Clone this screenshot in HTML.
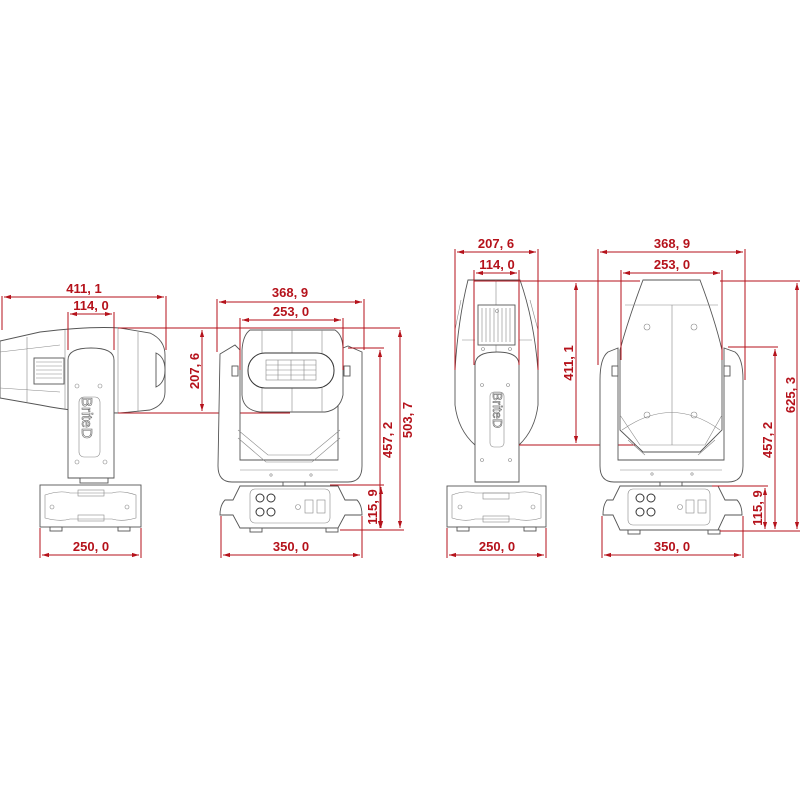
<!DOCTYPE html>
<html><head><style>
html,body{margin:0;padding:0;background:#fff}
svg{display:block}
.r{stroke:#b5121b;stroke-width:1;fill:none}
.t{fill:#b5121b;font-family:"Liberation Sans Narrow","Liberation Sans",sans-serif;font-size:13px;font-weight:bold}
.g{stroke:#555;stroke-width:0.9;fill:#fff}
.gl{stroke:#888;stroke-width:0.6;fill:none}
.d{stroke:#333;stroke-width:1;fill:#fff}
</style></head><body>
<svg width="800" height="800" viewBox="0 0 800 800" xmlns="http://www.w3.org/2000/svg">
<defs>
<marker id="a" viewBox="0 0 10 10" refX="10" refY="5" markerWidth="7" markerHeight="7" orient="auto-start-reverse"><path d="M0,2 L10,5 L0,8z" fill="#b5121b"/></marker>
</defs>

<!-- ===== VIEW 1 side ===== -->
<g>
<path class="g" d="M0,341 L40,332 Q90,326 120,328 L150,333 Q165,340 165,355 L165,392 Q165,405 150,410 L120,413 Q80,413 40,405 L0,398 Z"/>
<path class="gl" d="M0,352 L60,345 M0,388 L60,392 M27,337 L27,402 M65,330 L65,410 M138,332 L138,412 M118,328 L118,413"/>
<rect class="g" x="34" y="358" width="30" height="26"/>
<path class="gl" d="M36,362h26M36,366h26M36,370h26M36,374h26M36,378h26"/>
<path class="g" d="M156,353 Q165,357 165,370 Q165,383 156,387 Z"/>
<path class="g" d="M68,360 Q68,348 91,348 Q114,348 114,360 L114,478 L68,478 Z"/>
<rect class="gl" x="79" y="397" width="21" height="60" rx="5"/>
<text x="0" y="0" transform="translate(82,397) rotate(90)" style="font-family:'Liberation Sans',sans-serif;font-size:15px;fill:#fff;stroke:#666;stroke-width:0.6">BriteD</text>
<circle class="gl" cx="77" cy="386" r="2"/><circle class="gl" cx="100" cy="386" r="2"/>
<circle class="gl" cx="77" cy="462" r="2"/><circle class="gl" cx="105" cy="462" r="2"/>
<rect class="g" x="80" y="478" width="28" height="5"/>
<rect class="g" x="40" y="485" width="101" height="42"/>
<path class="gl" d="M45,495 Q60,490 70,493 L112,493 Q122,490 136,495 L136,518 Q122,522 112,519 L70,519 Q60,522 45,518 Z"/>
<rect class="gl" x="78" y="490" width="26" height="6"/><rect class="gl" x="78" y="515" width="26" height="6"/>
<circle class="gl" cx="52" cy="507" r="2"/><circle class="gl" cx="127" cy="507" r="2"/>
<rect class="g" x="50" y="527" width="12" height="4"/><rect class="g" x="118" y="527" width="12" height="4"/>
</g>

<!-- dims view1 -->
<line class="r" x1="2" y1="296" x2="2" y2="330"/>
<line class="r" x1="166" y1="296" x2="166" y2="350"/>
<line class="r" x1="4" y1="297" x2="164" y2="297" marker-start="url(#a)" marker-end="url(#a)"/>
<text class="t" x="84" y="293" text-anchor="middle">411, 1</text>
<line class="r" x1="68" y1="312" x2="68" y2="350"/>
<line class="r" x1="114" y1="312" x2="114" y2="350"/>
<line class="r" x1="70" y1="314" x2="112" y2="314" marker-start="url(#a)" marker-end="url(#a)"/>
<text class="t" x="91" y="310" text-anchor="middle">114, 0</text>
<line class="r" x1="118" y1="328" x2="400" y2="328"/>
<line class="r" x1="118" y1="413" x2="290" y2="413"/>
<line class="r" x1="202" y1="330" x2="202" y2="411" marker-start="url(#a)" marker-end="url(#a)"/>
<text class="t" transform="translate(199,371) rotate(-90)" text-anchor="middle">207, 6</text>
<line class="r" x1="40" y1="528" x2="40" y2="558"/>
<line class="r" x1="141" y1="528" x2="141" y2="558"/>
<line class="r" x1="42" y1="555" x2="139" y2="555" marker-start="url(#a)" marker-end="url(#a)"/>
<text class="t" x="91" y="551" text-anchor="middle">250, 0</text>

<!-- ===== VIEW 2 front ===== -->
<g>
<path class="g" d="M220,354 L235,345 L240,350 L240,460 L338,460 L338,350 L348,346 L362,352 L362,466 Q362,482 348,482 L232,482 Q218,482 218,466 Z"/>
<path class="gl" d="M238,430 L268,455 L310,455 L340,430 M238,438 L266,462 L312,462 L340,438 M240,470 L338,470"/>
<circle class="gl" cx="271" cy="475" r="1.2"/><circle class="gl" cx="311" cy="475" r="1.2"/>
<path class="g" d="M250,330 L335,330 Q343,335 343,350 L343,395 Q340,410 325,412 L260,412 Q243,410 242,395 L242,350 Q243,335 250,330 Z"/>
<path class="gl" d="M262,330 L262,412 M322,330 L322,412 M292,330 L292,412"/>
<rect class="d" x="248" y="353" width="86" height="35" rx="17"/>
<rect class="gl" x="266" y="360" width="50" height="20"/>
<path class="gl" d="M266,365h50M266,370h50M266,375h50M278,360v20M291,360v20M304,360v20"/>
<rect class="g" x="232" y="366" width="6" height="10"/><rect class="g" x="344" y="366" width="6" height="10"/>
<rect class="g" x="283" y="482" width="22" height="4"/>
<path class="g" d="M240,486 L338,486 L345,500 L357,500 Q362,505 362,515 L345,515 L338,528 L240,528 L233,515 L220,515 Q220,505 225,500 L233,500 Z"/>
<rect class="gl" x="250" y="489" width="80" height="34" rx="5"/>
<circle class="d" cx="260" cy="498" r="4"/><circle class="d" cx="271" cy="498" r="4"/>
<circle class="d" cx="260" cy="512" r="4"/><circle class="d" cx="271" cy="512" r="4"/>
<circle class="gl" cx="298" cy="507" r="2.5"/>
<rect class="gl" x="305" y="500" width="8" height="13"/><rect class="gl" x="317" y="500" width="8" height="13"/>
<rect class="g" x="250" y="528" width="12" height="4"/><rect class="g" x="326" y="528" width="12" height="4"/>
</g>
<!-- dims view2 -->
<line class="r" x1="217" y1="299" x2="217" y2="352"/>
<line class="r" x1="364" y1="299" x2="364" y2="350"/>
<line class="r" x1="219" y1="302" x2="362" y2="302" marker-start="url(#a)" marker-end="url(#a)"/>
<text class="t" x="290" y="297" text-anchor="middle">368, 9</text>
<line class="r" x1="240" y1="318" x2="240" y2="370"/>
<line class="r" x1="343" y1="318" x2="343" y2="370"/>
<line class="r" x1="242" y1="320" x2="341" y2="320" marker-start="url(#a)" marker-end="url(#a)"/>
<text class="t" x="291" y="316" text-anchor="middle">253, 0</text>
<line class="r" x1="348" y1="348" x2="384" y2="348"/>
<line class="r" x1="330" y1="485" x2="384" y2="485"/>
<line class="r" x1="340" y1="530" x2="404" y2="530"/>
<line class="r" x1="380" y1="350" x2="380" y2="528" marker-start="url(#a)" marker-end="url(#a)"/>
<text class="t" transform="translate(392,440) rotate(-90)" text-anchor="middle">457, 2</text>
<line class="r" x1="400" y1="330" x2="400" y2="528" marker-start="url(#a)" marker-end="url(#a)"/>
<text class="t" transform="translate(412,420) rotate(-90)" text-anchor="middle">503, 7</text>
<line class="r" x1="381" y1="487" x2="381" y2="528" marker-start="url(#a)" marker-end="url(#a)"/>
<text class="t" transform="translate(377,507) rotate(-90)" text-anchor="middle">115, 9</text>
<line class="r" x1="221" y1="516" x2="221" y2="558"/>
<line class="r" x1="362" y1="516" x2="362" y2="558"/>
<line class="r" x1="223" y1="555" x2="360" y2="555" marker-start="url(#a)" marker-end="url(#a)"/>
<text class="t" x="291" y="551" text-anchor="middle">350, 0</text>

<!-- ===== VIEW 3 side back ===== -->
<g>
<path class="g" d="M468,280 L520,280 Q534,320 538,370 L538,405 Q535,430 519,445 L475,445 Q458,430 455,405 L455,370 Q458,320 468,280 Z"/>
<path class="gl" d="M496,280 L496,445 M462,340 L475,340 M519,340 L532,340 M461,300 L455,330 M530,300 L538,330"/>
<rect class="g" x="478" y="305" width="37" height="40"/>
<path class="gl" d="M482,308v34M486,308v34M490,308v34M494,308v34M498,308v34M502,308v34M506,308v34M510,308v34"/>
<circle class="gl" cx="497" cy="311" r="1.5"/><circle class="gl" cx="483" cy="349" r="1.5"/><circle class="gl" cx="510" cy="349" r="1.5"/>
<path class="g" d="M475,365 Q475,352 497,352 Q519,352 519,365 L519,482 L475,482 Z"/>
<rect class="gl" x="490" y="392" width="14" height="55" rx="4"/>
<text x="0" y="0" transform="translate(493,392) rotate(90)" style="font-family:'Liberation Sans',sans-serif;font-size:13px;fill:#fff;stroke:#666;stroke-width:0.6">BriteD</text>
<circle class="gl" cx="482" cy="385" r="1.5"/><circle class="gl" cx="508" cy="385" r="1.5"/>
<circle class="gl" cx="482" cy="460" r="1.5"/><circle class="gl" cx="510" cy="460" r="1.5"/>
<rect class="g" x="447" y="486" width="99" height="41"/>
<path class="gl" d="M452,495 Q465,490 475,493 L515,493 Q528,490 541,495 L541,518 Q528,522 515,519 L475,519 Q465,522 452,518 Z"/>
<rect class="gl" x="483" y="493" width="26" height="6"/><rect class="gl" x="483" y="516" width="26" height="6"/>
<circle class="gl" cx="460" cy="507" r="2"/><circle class="gl" cx="533" cy="507" r="2"/>
<rect class="g" x="457" y="527" width="12" height="4"/><rect class="g" x="524" y="527" width="12" height="4"/>
</g>
<!-- dims view3 -->
<line class="r" x1="455" y1="249" x2="455" y2="370"/>
<line class="r" x1="538" y1="249" x2="538" y2="370"/>
<line class="r" x1="457" y1="252" x2="536" y2="252" marker-start="url(#a)" marker-end="url(#a)"/>
<text class="t" x="496" y="248" text-anchor="middle">207, 6</text>
<line class="r" x1="474" y1="270" x2="474" y2="365"/>
<line class="r" x1="519" y1="270" x2="519" y2="365"/>
<line class="r" x1="476" y1="273" x2="517" y2="273" marker-start="url(#a)" marker-end="url(#a)"/>
<text class="t" x="497" y="269" text-anchor="middle">114, 0</text>
<line class="r" x1="474" y1="281" x2="640" y2="281"/>
<line class="r" x1="720" y1="281" x2="800" y2="281"/>
<line class="r" x1="519" y1="445" x2="640" y2="445"/>
<line class="r" x1="576" y1="283" x2="576" y2="443" marker-start="url(#a)" marker-end="url(#a)"/>
<text class="t" transform="translate(573,363) rotate(-90)" text-anchor="middle">411, 1</text>
<line class="r" x1="447" y1="528" x2="447" y2="558"/>
<line class="r" x1="546" y1="528" x2="546" y2="558"/>
<line class="r" x1="449" y1="555" x2="544" y2="555" marker-start="url(#a)" marker-end="url(#a)"/>
<text class="t" x="497" y="551" text-anchor="middle">250, 0</text>

<!-- ===== VIEW 4 front back ===== -->
<g>
<path class="g" d="M608,352 L618,348 L618,460 L724,460 L724,348 L735,352 Q743,358 743,380 L743,466 Q743,482 728,482 L614,482 Q600,482 600,466 L600,380 Q600,358 608,352 Z"/>
<path class="gl" d="M620,470 L722,470"/>
<circle class="gl" cx="652" cy="474" r="1.2"/><circle class="gl" cx="692" cy="474" r="1.2"/>
<path class="g" d="M643,280 L700,280 Q715,320 722,350 L722,430 L700,452 L643,452 L620,430 L620,350 Q628,320 643,280 Z"/>
<path class="gl" d="M672,305 L672,445 M625,305 L718,305 M622,430 Q672,395 720,430 M628,440 L645,455 M715,440 L698,455 M620,415 L640,445 L705,445 L722,415"/>
<circle class="gl" cx="647" cy="327" r="3"/><circle class="gl" cx="694" cy="327" r="3"/>
<circle class="gl" cx="647" cy="415" r="3"/><circle class="gl" cx="694" cy="415" r="3"/>
<rect class="g" x="612" y="366" width="6" height="10"/><rect class="g" x="724" y="366" width="6" height="10"/>
<rect class="g" x="660" y="482" width="22" height="4"/>
<path class="g" d="M620,486 L718,486 L725,500 L737,500 Q742,505 742,515 L725,515 L718,530 L620,530 L613,515 L603,515 Q603,505 607,500 L613,500 Z"/>
<rect class="gl" x="628" y="489" width="82" height="36" rx="5"/>
<circle class="d" cx="640" cy="498" r="4"/><circle class="d" cx="651" cy="498" r="4"/>
<circle class="d" cx="640" cy="512" r="4"/><circle class="d" cx="651" cy="512" r="4"/>
<circle class="gl" cx="680" cy="507" r="2.5"/>
<rect class="gl" x="686" y="500" width="8" height="13"/><rect class="gl" x="698" y="500" width="8" height="13"/>
<rect class="g" x="628" y="530" width="12" height="4"/><rect class="g" x="708" y="530" width="12" height="4"/>
</g>
<!-- dims view4 -->
<line class="r" x1="598" y1="249" x2="598" y2="365"/>
<line class="r" x1="745" y1="249" x2="745" y2="380"/>
<line class="r" x1="600" y1="252" x2="743" y2="252" marker-start="url(#a)" marker-end="url(#a)"/>
<text class="t" x="672" y="248" text-anchor="middle">368, 9</text>
<line class="r" x1="621" y1="270" x2="621" y2="360"/>
<line class="r" x1="722" y1="270" x2="722" y2="360"/>
<line class="r" x1="623" y1="273" x2="720" y2="273" marker-start="url(#a)" marker-end="url(#a)"/>
<text class="t" x="672" y="269" text-anchor="middle">253, 0</text>
<line class="r" x1="728" y1="347" x2="778" y2="347"/>
<line class="r" x1="712" y1="486" x2="768" y2="486"/>
<line class="r" x1="720" y1="531" x2="800" y2="531"/>
<line class="r" x1="775" y1="349" x2="775" y2="529" marker-start="url(#a)" marker-end="url(#a)"/>
<text class="t" transform="translate(772,440) rotate(-90)" text-anchor="middle">457, 2</text>
<line class="r" x1="797" y1="283" x2="797" y2="529" marker-start="url(#a)" marker-end="url(#a)"/>
<text class="t" transform="translate(795,395) rotate(-90)" text-anchor="middle">625, 3</text>
<line class="r" x1="765" y1="488" x2="765" y2="529" marker-start="url(#a)" marker-end="url(#a)"/>
<text class="t" transform="translate(762,508) rotate(-90)" text-anchor="middle">115, 9</text>
<line class="r" x1="602" y1="516" x2="602" y2="558"/>
<line class="r" x1="743" y1="516" x2="743" y2="558"/>
<line class="r" x1="604" y1="555" x2="741" y2="555" marker-start="url(#a)" marker-end="url(#a)"/>
<text class="t" x="672" y="551" text-anchor="middle">350, 0</text>
</svg>
</body></html>
